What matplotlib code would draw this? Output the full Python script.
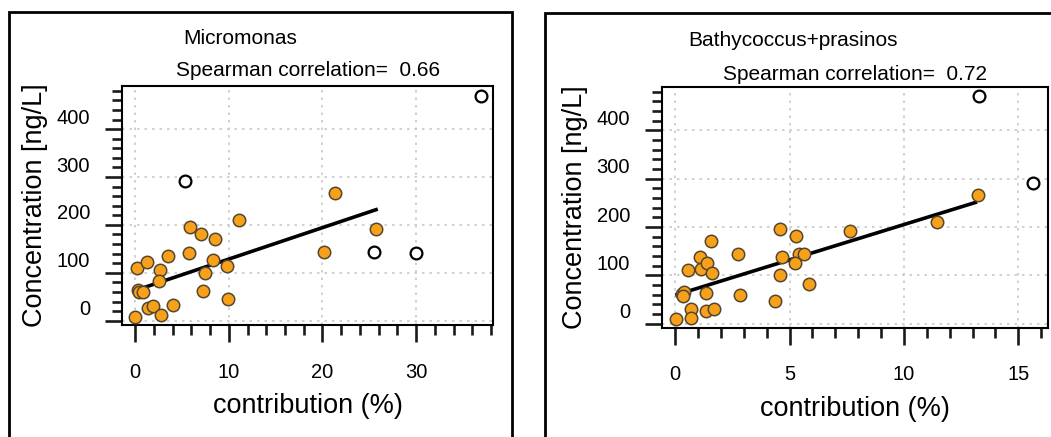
import numpy as np
import matplotlib
matplotlib.use("Agg")
import matplotlib.pyplot as plt
from matplotlib.patches import Rectangle
from matplotlib.transforms import ScaledTranslation

plt.rcParams['font.family'] = ['Liberation Sans', 'DejaVu Sans']

# ---- Micromonas panel ----
mic_x = [0.0, 0.25, 1.25, 0.36, 0.46, 0.82, 2.67, 2.5, 3.56, 1.42, 1.89, 2.74, 4.02,
         5.87, 5.8, 7.0, 8.54, 8.36, 7.47, 7.22, 9.86, 9.89, 11.14, 20.18, 21.35, 25.73]
mic_y = [8, 111, 123, 65, 59, 60, 105, 82, 136, 26, 31, 12, 33,
         195, 141, 181, 171, 126, 100, 63, 114, 45, 211, 143, 266, 192]
mic_out_x = [5.34, 25.5, 30.0, 36.9]
mic_out_y = [291, 143, 142, 469]
mic_fit_x = [0.0, 25.9]
mic_fit_y = [63, 233]
mic_rho = 0.66

# ---- Bathycoccus+prasinos panel ----
bat_x = [0.03, 0.29, 0.39, 0.36, 0.55, 0.68, 0.68, 1.06, 1.14, 1.38, 1.33, 1.34, 1.70,
         1.56, 1.6, 2.74, 2.84, 4.34, 4.59, 4.66, 4.59, 5.27, 5.39, 5.61, 5.24, 5.87,
         7.65, 11.43, 13.22]
bat_y = [9, 61, 66, 57, 111, 31, 12, 139, 113, 125, 63, 26, 31,
         172, 104, 144, 60, 46, 196, 137, 100, 181, 144, 144, 125, 83,
         192, 211, 266]
bat_out_x = [13.27, 15.63]
bat_out_y = [471, 291]
bat_fit_x = [0.0, 13.2]
bat_fit_y = [59, 252]
bat_rho = 0.72

W, H = 1051, 437
fig = plt.figure(figsize=(W / 100, H / 100), dpi=100)


def px(x0, y0, x1, y1):
    # pixel box -> figure fraction [left, bottom, width, height]
    return [x0 / W, 1 - y1 / H, (x1 - x0) / W, (y1 - y0) / H]


def panel(rect, x, y, ox, oy, fx, fy, xlim, xmaj, xmin):
    ax = fig.add_axes(rect)
    ax.grid(True, color='#c8c8c8', linestyle=(0, (1.5, 3)), linewidth=1.2)
    ax.set_axisbelow(True)
    ax.plot(fx, fy, color='black', lw=2.6, solid_capstyle='butt', zorder=3)
    ax.scatter(x, y, s=80, color='#F7A11A', edgecolors='#55462f', linewidths=1.1, zorder=4)
    ax.scatter(ox, oy, s=72, facecolors='white', edgecolors='black', linewidths=1.6, zorder=4)
    ax.set_xlim(*xlim)
    ax.set_ylim(-9, 490)
    ax.set_xticks(xmaj)
    ax.set_xticks(xmin, minor=True)
    ax.set_yticks([0, 100, 200, 300, 400])
    ax.set_yticks(np.arange(0, 481, 20), minor=True)
    ax.tick_params(which='major', length=12, width=1.9, labelsize=14.5, color='#1a1a1a')
    ax.tick_params(which='minor', length=7.5, width=1.9, color='#1a1a1a')
    ax.tick_params(axis='x', which='major', pad=15)
    ax.tick_params(axis='y', which='major', pad=11)
    for lab in ax.get_yticklabels():
        lab.set_transform(lab.get_transform() + ScaledTranslation(0, 0.13, fig.dpi_scale_trans))
    for s in ax.spines.values():
        s.set_linewidth(1.5)
    ax.set_xlabel('contribution (%)', fontsize=19.5, labelpad=8)
    ax.set_ylabel('Concentration [ng/L]', fontsize=19.5, labelpad=6)
    return ax


ax1 = panel(px(122, 86, 493, 325), mic_x, mic_y, mic_out_x, mic_out_y, mic_fit_x, mic_fit_y,
            (-1.4, 38.2), [0, 10, 20, 30], np.arange(0, 39, 2))
ax2 = panel(px(662, 87, 1048, 328), bat_x, bat_y, bat_out_x, bat_out_y, bat_fit_x, bat_fit_y,
            (-0.58, 16.3), [0, 5, 10, 15], np.arange(0, 17, 1))

fig.text(183 / W, 1 - 39 / H, 'Micromonas', fontsize=15, ha='left', va='center')
fig.text(308 / W, 1 - 71 / H, 'Spearman correlation=  %.2f' % mic_rho, fontsize=15, ha='center', va='center')
fig.text(688 / W, 1 - 41 / H, 'Bathycoccus+prasinos', fontsize=15, ha='left', va='center')
fig.text(855 / W, 1 - 74 / H, 'Spearman correlation=  %.2f' % bat_rho, fontsize=15, ha='center', va='center')

# outer frames around each panel
fig.patches.append(Rectangle((9 / W, -0.1), (512 - 9) / W, 1.1 - 12 / H, transform=fig.transFigure,
                             fill=False, edgecolor='black', linewidth=2))
fig.patches.append(Rectangle((545 / W, -0.1), 0.6, 1.1 - 13 / H, transform=fig.transFigure,
                             fill=False, edgecolor='black', linewidth=2))

fig.savefig('out.png', dpi=100)
